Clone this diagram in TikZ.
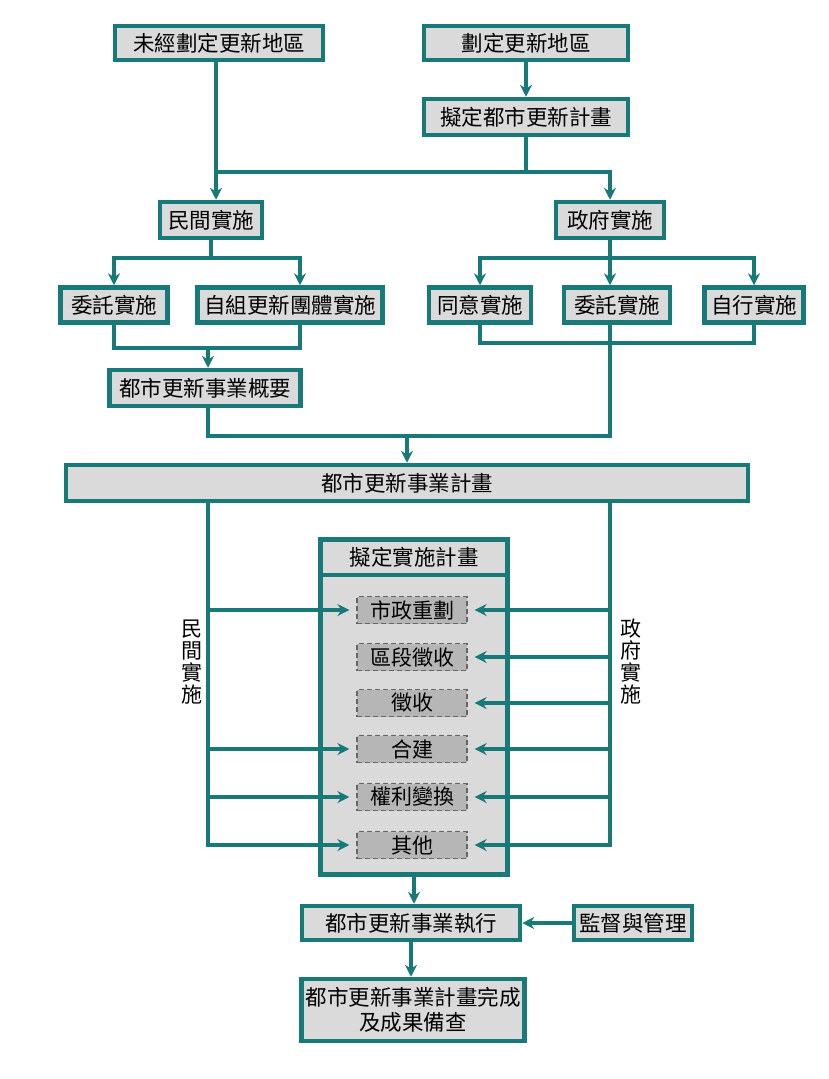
\documentclass[tikz,border=0pt]{standalone}
\usepackage{fontspec}
\setmainfont{Noto Sans CJK TC}
\usetikzlibrary{arrows.meta}
\definecolor{flowteal}{RGB}{24,122,120}
\definecolor{boxgray}{RGB}{218,218,218}
\definecolor{itemgray}{RGB}{182,182,182}

\begin{document}
\begin{tikzpicture}[x=1pt, y=-1pt, >={Stealth[length=12pt,width=12pt,inset=4pt]},
  font=\fontsize{21.5}{25}\selectfont,
  box/.style={draw=flowteal, line width=4.5pt, fill=boxgray, minimum height=34pt, inner sep=1pt},
  item/.style={draw=black!60, dash pattern=on 5pt off 3pt, line width=1.2pt, fill=itemgray,
    minimum width=110pt, minimum height=27pt, inner sep=0pt, font=\fontsize{21}{23}\selectfont},
  flow/.style={draw=flowteal, line width=3.5pt},
  vlabel/.style={align=center, inner sep=0pt, font=\fontsize{21}{22}\selectfont}]
  \useasboundingbox (0,0) rectangle (828,1079);
  % Top: designated areas
  \node[box, minimum width=208pt] (unmark) at (219,43) {未經劃定更新地區};
  \node[box, minimum width=204pt] (mark) at (526,43) {劃定更新地區};
  \node[box, minimum width=204pt, minimum height=36pt] (plan) at (526,117) {擬定都市更新計畫};
  % Private / government implementation
  \node[box, minimum width=102pt, minimum height=36pt] (minjian) at (211,220) {民間實施};
  \node[box, minimum width=108pt, minimum height=36pt] (zhengfu) at (610,220) {政府實施};
  \node[box, minimum width=107pt, minimum height=35pt] (wt1) at (114,305) {委託實施};
  \node[box, minimum width=185pt, minimum height=35pt] (zizu) at (290,305) {自組更新團體實施};
  \node[box, minimum width=102pt, minimum height=35pt] (tongyi) at (480,305) {同意實施};
  \node[box, minimum width=106pt, minimum height=35pt] (wt2) at (617,305) {委託實施};
  \node[box, minimum width=99pt, minimum height=35pt] (zixing) at (754,305) {自行實施};
  \node[box, minimum width=191pt, minimum height=36pt] (gaiyao) at (205,388) {都市更新事業概要};
  \node[box, minimum width=682pt, minimum height=36pt] (jihua) at (407,483) {都市更新事業計畫};
  % Implementation plan with its methods
  \node[box, minimum width=187pt, minimum height=335pt] (shishi) at (414,707) {};
  \node (shishihead) at (414,557) {擬定實施計畫};
  \draw[flow, line width=4pt] ([yshift=-38pt]shishi.north west) -- ([yshift=-38pt]shishi.north east);
  \node[item] (it1) at (412,610) {市政重劃};
  \node[item] (it2) at (412,657) {區段徵收};
  \node[item] (it3) at (412,703) {徵收};
  \node[item] (it4) at (412,749) {合建};
  \node[item] (it5) at (412,797) {權利變換};
  \node[item] (it6) at (412,845) {其他};
  \node[vlabel] (lvl) at (192,662) {民\\間\\實\\施};
  \node[vlabel] (rvl) at (631,662) {政\\府\\實\\施};
  % Bottom: execution
  \node[box, minimum width=218pt] (zhixing) at (411,923) {都市更新事業執行};
  \node[box, minimum width=118pt] (jiandu) at (633,923) {監督與管理};
  \node[box, minimum width=223pt, minimum height=62pt, align=center] (wancheng) at (413,1010)
    {都市更新事業計畫完成\\及成果備查};

  % Connectors
  \coordinate (split) at (216,172);
  \draw[flow,->] (unmark.south -| split) -- (split |- minjian.north);
  \draw[flow,->] (mark.south) -- (plan.north);
  \draw[flow] (plan.south) -- (plan.south |- split);
  \draw[flow,->] (split) -| (zhengfu.north);
  % private branch
  \coordinate (pbar) at (211,258);
  \coordinate (pmerge) at (208,348);
  \draw[flow] (minjian.south) -- (pbar);
  \draw[flow,->] (pbar) -| (wt1.north);
  \draw[flow,->] (pbar) -| ([xshift=10pt]zizu.north);
  \draw[flow] (wt1.south) |- (pmerge) -| ([xshift=10pt]zizu.south);
  \draw[flow,->] (pmerge) -- (pmerge |- gaiyao.north);
  % government branch
  \coordinate (gbar) at (610,258);
  \coordinate (gmerge) at (610,343);
  \draw[flow] (zhengfu.south) -- (gbar);
  \draw[flow,->] (gbar) -| (tongyi.north);
  \draw[flow,->] (gbar) -| (zixing.north);
  \draw[flow,->] (gbar) -- (gbar |- wt2.north);
  \draw[flow] (tongyi.south) |- (gmerge) -| (zixing.south);
  % both into the project plan
  \coordinate (join) at (407,436);
  \draw[flow] (pmerge |- gaiyao.south) |- (join) -| (gbar |- wt2.south);
  \draw[flow,->] (join) -- (join |- jihua.north);
  % rails to the methods
  \coordinate (lrail) at (208,850);
  \coordinate (rrail) at (610,850);
  \draw[flow,->,shorten >=7pt] (lrail |- jihua.south) |- (it6.west);
  \draw[flow,->,shorten >=7pt] (rrail |- jihua.south) |- (it6.east);
  \foreach \n in {1,4,5}
    \draw[flow,->,shorten >=7pt] (lrail |- it\n.west) -- (it\n.west);
  \foreach \n in {1,2,3,4,5}
    \draw[flow,->,shorten >=7pt] (rrail |- it\n.east) -- (it\n.east);
  % execution
  \draw[flow,->] (shishi.south) -- (shishi.south |- zhixing.north);
  \draw[flow,->] (jiandu.west) -- (zhixing.east);
  \draw[flow,->] (zhixing.south) -- (zhixing.south |- wancheng.north);
\end{tikzpicture}
\end{document}
